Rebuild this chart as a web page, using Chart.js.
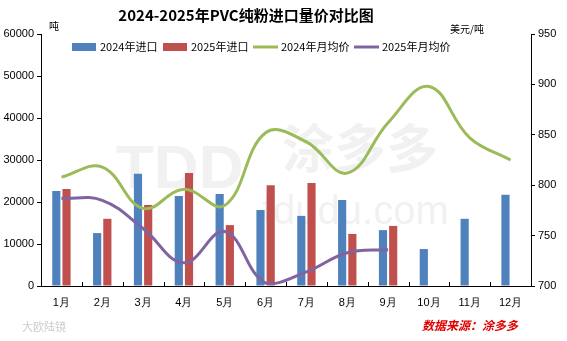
<!DOCTYPE html>
<html>
<head>
<meta charset="utf-8">
<script src="https://cdn.jsdelivr.net/npm/chart.js@4"></script>
<style>
  html, body { margin: 0; padding: 0; background: #fff; }
  #wrap { width: 567px; height: 341px; position: relative; }
</style>
</head>
<body>
<div id="wrap"><canvas id="chart" width="567" height="341"></canvas></div>
<script>
const months = ['1月', '2月', '3月', '4月', '5月', '6月', '7月', '8月', '9月', '10月', '11月', '12月'];
const import2024 = [22600, 12600, 26700, 21400, 21900, 18100, 16700, 20500, 13300, 8800, 16000, 21700];
const import2025 = [23100, 16000, 19300, 26900, 14500, 24000, 24500, 12400, 14300, null, null, null];
const price2024 = [808, 818, 777, 796, 780, 852, 843, 812, 862, 898, 847, 825];
const price2025 = [787, 785, 757, 723, 754, 703, 714, 733, 736, null, null, null];

const FONT = "'Liberation Sans', Arial, sans-serif";
const CJK = "'Noto Sans CJK SC', sans-serif";

// title, units, legend, footer and watermark drawn on the canvas
const decor = {
  id: 'decor',
  beforeDatasetsDraw(chart) {
    const { ctx } = chart;
    ctx.save();
    ctx.fillStyle = 'rgba(190,190,190,0.22)';
    ctx.textAlign = 'left';
    ctx.textBaseline = 'alphabetic';
    ctx.font = "bold 62px " + FONT;
    ctx.fillText('TDD', 116, 188);
    ctx.font = "bold 52px " + CJK;
    ctx.fillText('涂多多', 282, 168);
    ctx.font = "40px " + FONT;
    ctx.fillText('tdudu.com', 262, 224);
    ctx.restore();
  },
  afterDraw(chart) {
    const { ctx, chartArea } = chart;
    ctx.save();
    ctx.fillStyle = '#000';
    ctx.textBaseline = 'middle';
    ctx.textAlign = 'center';
    ctx.font = "bold 15px " + CJK;
    ctx.fillText('2024-2025年PVC纯粉进口量价对比图', 246, 15);

    ctx.font = "10px " + CJK;
    ctx.textAlign = 'left';
    ctx.fillText('吨', 49, 26);
    ctx.textAlign = 'right';
    ctx.fillText('美元/吨', 484, 29);

    // legend
    ctx.font = "11px " + CJK;
    ctx.textAlign = 'left';
    const xs = [72, 163, 253, 354];
    chart.data.datasets.forEach((ds, i) => {
      const x = xs[i], y = 47;
      if (ds.type === 'line') {
        ctx.strokeStyle = ds.borderColor;
        ctx.lineWidth = 3;
        ctx.beginPath();
        ctx.moveTo(x, y);
        ctx.lineTo(x + 25, y);
        ctx.stroke();
      } else {
        ctx.fillStyle = ds.backgroundColor;
        ctx.fillRect(x, y - 4, 24, 8);
      }
      ctx.fillStyle = '#000';
      ctx.fillText(ds.label, x + 28, y);
    });

    // inward tick marks on category axis
    const xAxis = chart.scales.x;
    ctx.strokeStyle = '#000';
    ctx.lineWidth = 1;
    for (let i = 0; i <= months.length; i++) {
      const px = Math.round(xAxis.getPixelForValue(i - 0.5)) + 0.5;
      ctx.beginPath();
      ctx.moveTo(px, chartArea.bottom);
      ctx.lineTo(px, chartArea.bottom - 4);
      ctx.stroke();
    }

    ctx.fillStyle = '#e00000';
    ctx.font = "italic bold 12px " + CJK;
    ctx.textAlign = 'right';
    ctx.fillText('数据来源：涂多多', 518, 325);

    ctx.fillStyle = '#cccccc';
    ctx.font = "11px " + CJK;
    ctx.textAlign = 'left';
    ctx.fillText('大欧陆镜', 22, 327);
    ctx.restore();
  }
};

const plain = v => String(v);

new Chart(document.getElementById('chart'), {
  data: {
    labels: months,
    datasets: [
      { type: 'bar', label: '2024年进口', data: import2024, backgroundColor: '#4f81bd', yAxisID: 'y', order: 2, categoryPercentage: 0.5, barPercentage: 0.8 },
      { type: 'bar', label: '2025年进口', data: import2025, backgroundColor: '#c0504d', yAxisID: 'y', order: 2, categoryPercentage: 0.5, barPercentage: 0.8 },
      { type: 'line', label: '2024年月均价', data: price2024, borderColor: '#9bbb59', borderWidth: 3, pointRadius: 0, tension: 0.4, yAxisID: 'y1', order: 1 },
      { type: 'line', label: '2025年月均价', data: price2025, borderColor: '#8064a2', borderWidth: 3, pointRadius: 0, tension: 0.4, yAxisID: 'y1', order: 0 }
    ]
  },
  options: {
    responsive: false,
    animation: false,
    layout: { padding: { top: 34, left: 0, right: 0, bottom: 0 } },
    plugins: { legend: { display: false }, title: { display: false }, tooltip: { enabled: false } },
    scales: {
      x: {
        grid: { display: false },
        border: { color: '#000' },
        ticks: { color: '#000', font: { family: FONT, size: 11 }, padding: 2, maxRotation: 0 },
        afterFit(s) { s.height = 55; }
      },
      y: {
        position: 'left',
        min: 0, max: 60000,
        ticks: { stepSize: 10000, color: '#000', font: { family: FONT, size: 11 }, padding: 3, callback: plain },
        grid: { drawOnChartArea: false, tickLength: 4, color: '#000' },
        border: { color: '#000' },
        afterFit(s) { s.width = 41; }
      },
      y1: {
        position: 'right',
        min: 700, max: 950,
        ticks: { stepSize: 50, color: '#000', font: { family: FONT, size: 11 }, padding: 3, callback: plain },
        grid: { drawOnChartArea: false, tickLength: 4, color: '#000' },
        border: { color: '#000' },
        afterFit(s) { s.width = 36; }
      }
    }
  },
  plugins: [decor]
});
</script>
</body>
</html>
